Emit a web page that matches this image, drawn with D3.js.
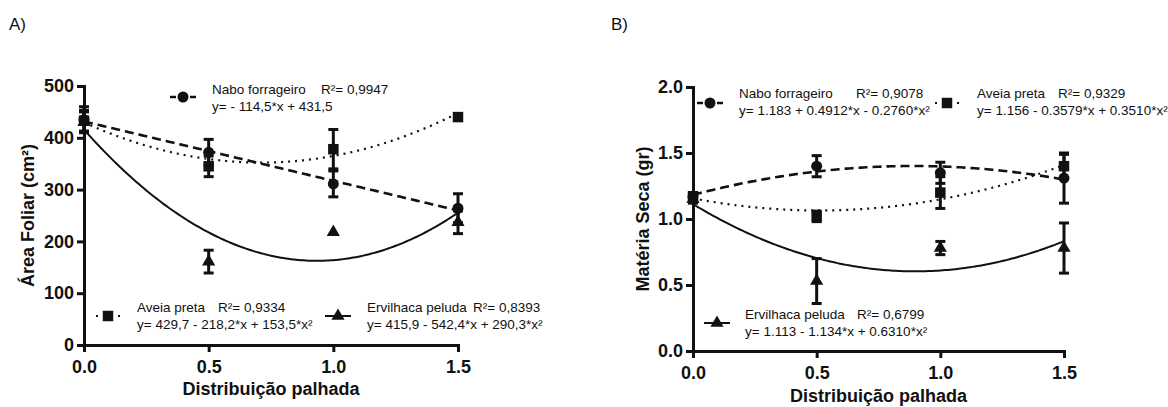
<!DOCTYPE html>
<html>
<head>
<meta charset="utf-8">
<script src="https://cdn.jsdelivr.net/npm/d3@7"></script>
<style>
  body { margin: 0; background: #fff; }
  text { font-family: "Liberation Sans", Arial, sans-serif; fill: #111; }
</style>
</head>
<body>
<div id="chart"></div>
<script>
// x categories (distribuição palhada)
const xCats = [0, 0.5, 1.0, 1.5];

// Panel A - Área foliar (cm²)
const naboA = [435, 372, 311, 264];
const naboAErr = [25, 25, 25, 28];
const aveiaA = [433, 345, 378, 440];
const aveiaAErr = [20, 20, 38, 0];
const ervA = [430, 161, 218, 237];
const ervAErr = [20, 22, 0, 22];
// regression coefficients (a + b*x + c*x²) as printed in the legend
const naboAFit = [431.5, -114.5, 0];
const aveiaAFit = [429.7, -218.2, 153.5];
const ervAFit = [415.9, -542.4, 290.3];
const yTicksA = [0, 100, 200, 300, 400, 500];

// Panel B - Matéria seca (gr)
const naboB = [1.17, 1.40, 1.35, 1.31];
const naboBErr = [0.03, 0.08, 0.08, 0.19];
const aveiaB = [1.17, 1.02, 1.20, 1.40];
const aveiaBErr = [0.03, 0.04, 0.12, 0.09];
const ervB = [1.15, 0.53, 0.78, 0.78];
const ervBErr = [0.03, 0.17, 0.05, 0.19];
const naboBFit = [1.183, 0.4912, -0.2760];
const aveiaBFit = [1.156, -0.3579, 0.3510];
const ervBFit = [1.113, -1.134, 0.6310];
const yTicksB = [0, 0.5, 1.0, 1.5, 2.0];

const xTicks = [0, 0.5, 1.0, 1.5];

var svg = d3.select("#chart").append("svg")
  .attr("width", 1168).attr("height", 407);

// line styles for the three species
const styles = {
  nabo:  { dash: "9,5", width: 2.6, sym: d3.symbolCircle, size: 95 },
  aveia: { dash: "2,5", width: 2.2, sym: d3.symbolSquare, size: 110 },
  erv:   { dash: null,  width: 2,   sym: d3.symbolTriangle, size: 75 }
};

function drawPanel(p) {
  var x = d3.scaleLinear().domain([0, 1.5]).range(p.xr);
  var y = d3.scaleLinear().domain(p.ydom).range(p.yr);
  var g = svg.append("g");

  // fitted curves
  var xs = d3.range(0, 1.5001, 0.01);
  p.series.forEach(function(s) {
    var st = styles[s.key];
    var line = d3.line()
      .x(function(d) { return x(d); })
      .y(function(d) { return y(s.fit[0] + s.fit[1] * d + s.fit[2] * d * d); });
    g.append("path").datum(xs)
      .attr("d", line)
      .attr("fill", "none")
      .attr("stroke", "#111")
      .attr("stroke-width", st.width)
      .attr("stroke-dasharray", st.dash);
  });

  // error bars + markers
  p.series.forEach(function(s) {
    var st = styles[s.key];
    xCats.forEach(function(c, i) {
      var v = s.vals[i], e = s.err[i];
      if (e > 0) {
        g.append("line")
          .attr("x1", x(c)).attr("x2", x(c))
          .attr("y1", y(v - e)).attr("y2", y(v + e))
          .attr("stroke", "#111").attr("stroke-width", 3);
        [v - e, v + e].forEach(function(t) {
          g.append("line")
            .attr("x1", x(c) - 5).attr("x2", x(c) + 5)
            .attr("y1", y(t)).attr("y2", y(t))
            .attr("stroke", "#111").attr("stroke-width", 3);
        });
      }
      g.append("path")
        .attr("d", d3.symbol().type(st.sym).size(st.size)())
        .attr("transform", "translate(" + x(c) + "," + y(v) + ")")
        .attr("fill", "#111");
    });
  });

  // axes
  var ax = g.append("g")
    .attr("transform", "translate(0," + p.yr[0] + ")")
    .call(d3.axisBottom(x).tickValues(xTicks).tickFormat(d3.format(".1f")).tickSizeOuter(0).tickSize(7).tickPadding(8));
  var ay = g.append("g")
    .attr("transform", "translate(" + p.xr[0] + ",0)")
    .call(d3.axisLeft(y).tickValues(p.yticks).tickFormat(p.yfmt).tickSizeOuter(0).tickSize(7).tickPadding(3));
  [ax, ay].forEach(function(a) {
    a.select(".domain").attr("stroke", "#111").attr("stroke-width", 3);
    a.selectAll(".tick line").attr("stroke", "#111").attr("stroke-width", 3);
    a.selectAll(".tick text")
      .style("font-family", "'Liberation Sans', Arial, sans-serif")
      .style("font-size", "18px").style("font-weight", "bold").attr("fill", "#111");
  });

  // axis titles
  g.append("text")
    .attr("x", (p.xr[0] + p.xr[1]) / 2).attr("y", p.xtitleY)
    .attr("text-anchor", "middle")
    .style("font-size", "18px").style("font-weight", "bold")
    .text("Distribuição palhada");
  g.append("text")
    .attr("transform", "translate(" + p.ytitleX + "," + (p.yr[0] + p.yr[1]) / 2 + ")rotate(-90)")
    .attr("text-anchor", "middle")
    .attr("dy", "0.35em")
    .style("font-size", "18px").style("font-weight", "bold")
    .text(p.ytitle);

  // panel label
  g.append("text")
    .attr("x", p.labelX).attr("y", 30)
    .style("font-size", "17px")
    .text(p.label);

  // legend entries
  p.legend.forEach(function(L) {
    var st = styles[L.key];
    g.append("line")
      .attr("x1", L.sx - 13).attr("x2", L.sx + 13)
      .attr("y1", L.sy).attr("y2", L.sy)
      .attr("stroke", "#111").attr("stroke-width", st.width)
      .attr("stroke-dasharray", st.dash ? (L.key === "nabo" ? "6,14" : "2,20") : null)
      .attr("stroke-dashoffset", L.key === "nabo" ? 0 : -1);
    g.append("path")
      .attr("d", d3.symbol().type(st.sym).size(st.size)())
      .attr("transform", "translate(" + L.sx + "," + L.sy + ")")
      .attr("fill", "#111");
    g.append("text").attr("x", L.tx).attr("y", L.ty)
      .style("font-size", "13.5px").text(L.name);
    g.append("text").attr("x", L.rx).attr("y", L.ty)
      .style("font-size", "13.5px").text(L.r2);
    g.append("text").attr("x", L.tx).attr("y", L.ty + 17)
      .style("font-size", "13.5px").text(L.eq);
  });
}

drawPanel({
  xr: [84, 458], yr: [345, 86], ydom: [0, 500], yticks: yTicksA,
  yfmt: d3.format("d"),
  ytitle: "Área Foliar (cm²)", ytitleX: 28, xtitleY: 395,
  label: "A)", labelX: 9,
  series: [
    { key: "nabo", vals: naboA, err: naboAErr, fit: naboAFit },
    { key: "aveia", vals: aveiaA, err: aveiaAErr, fit: aveiaAFit },
    { key: "erv", vals: ervA, err: ervAErr, fit: ervAFit }
  ],
  legend: [
    { key: "nabo", sx: 183, sy: 97, tx: 212, rx: 321, ty: 94, name: "Nabo forrageiro", r2: "R²= 0,9947", eq: "y= - 114,5*x + 431,5" },
    { key: "aveia", sx: 108, sy: 316, tx: 137, rx: 218, ty: 312, name: "Aveia preta", r2: "R²= 0,9334", eq: "y= 429,7 - 218,2*x + 153,5*x²" },
    { key: "erv", sx: 338, sy: 316, tx: 367, rx: 473, ty: 312, name: "Ervilhaca peluda", r2: "R²= 0,8393", eq: "y= 415,9 - 542,4*x + 290,3*x²" }
  ]
});

drawPanel({
  xr: [693, 1064], yr: [351, 87], ydom: [0, 2], yticks: yTicksB,
  yfmt: d3.format(".1f"),
  ytitle: "Matéria Seca (gr)", ytitleX: 643, xtitleY: 402,
  label: "B)", labelX: 611,
  series: [
    { key: "nabo", vals: naboB, err: naboBErr, fit: naboBFit },
    { key: "aveia", vals: aveiaB, err: aveiaBErr, fit: aveiaBFit },
    { key: "erv", vals: ervB, err: ervBErr, fit: ervBFit }
  ],
  legend: [
    { key: "nabo", sx: 710, sy: 103, tx: 739, rx: 856, ty: 98, name: "Nabo forrageiro", r2: "R²= 0,9078", eq: "y= 1.183 + 0.4912*x - 0.2760*x²" },
    { key: "aveia", sx: 947, sy: 103, tx: 977, rx: 1058, ty: 98, name: "Aveia preta", r2: "R²= 0,9329", eq: "y= 1.156 - 0.3579*x + 0.3510*x²" },
    { key: "erv", sx: 717, sy: 323, tx: 745, rx: 857, ty: 319, name: "Ervilhaca peluda", r2: "R²= 0,6799", eq: "y= 1.113 - 1.134*x + 0.6310*x²" }
  ]
});
</script>
</body>
</html>
